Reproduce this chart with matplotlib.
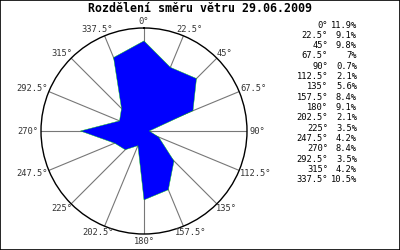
import numpy as np
import matplotlib
matplotlib.use("Agg")
import matplotlib.pyplot as plt
from matplotlib.patches import Rectangle

directions = [0, 22.5, 45, 67.5, 90, 112.5, 135, 157.5, 180, 202.5, 225, 247.5, 270, 292.5, 315, 337.5]
percent = [11.9, 9.1, 9.8, 7, 0.7, 2.1, 5.6, 8.4, 9.1, 2.1, 3.5, 4.2, 8.4, 3.5, 4.2, 10.5]
dir_labels = ["0", "22.5", "45", "67.5", "90", "112.5", "135", "157.5",
              "180", "202.5", "225", "247.5", "270", "292.5", "315", "337.5"]
title = "Rozdělení směru větru 29.06.2009"

mono = "DejaVu Sans Mono"
rmax = 13.6

fig = plt.figure(figsize=(4, 2.5), dpi=100)
fig.patches.append(Rectangle((0, 0), 1, 1, transform=fig.transFigure,
                             fill=False, edgecolor="black", linewidth=1.2))

ax = fig.add_axes([0.1025, 0.064, 0.515, 0.824], projection="polar")
ax.set_theta_zero_location("N")
ax.set_theta_direction(-1)

theta = np.deg2rad(directions)
ax.fill(np.append(theta, theta[0]), np.append(percent, percent[0]),
        color="#0000ff", edgecolor="#00cc00", linewidth=0.3, zorder=3)

ax.set_ylim(0, rmax)
ax.set_yticks([])
ax.set_xticks(theta)
ax.set_xticklabels([])
ax.tick_params(axis="x", length=0)
ax.xaxis.grid(True, color="#777777", linewidth=0.8)
ax.spines["polar"].set_linewidth(1.0)
ax.spines["polar"].set_color("black")

# direction labels just outside the circle
for t, d in zip(theta, dir_labels):
    s = d + "°"
    w = len(s) * 5.1
    h = 8
    dx = np.sin(t) * (3 + w / 2)
    dy = np.cos(t) * (3 + h / 2)
    ax.annotate(s, xy=(t, rmax), xytext=(dx * 0.72, dy * 0.72), textcoords="offset points",
                ha="center", va="center", family=mono, fontsize=6.3, color="#333333",
                annotation_clip=False)

fig.text(0.5, 1 - 9 / 250, title, ha="center", va="center",
         family=mono, fontweight="bold", fontsize=8.4)

for i, (d, p) in enumerate(zip(dir_labels, percent)):
    y = 1 - (25 + i * 10.33) / 250
    fig.text(328 / 400, y, d + "°", ha="right", va="center", family=mono, fontsize=6.3)
    fig.text(357 / 400, y, f"{p:g}%", ha="right", va="center", family=mono, fontsize=6.3)

fig.savefig("out.png", dpi=100)
